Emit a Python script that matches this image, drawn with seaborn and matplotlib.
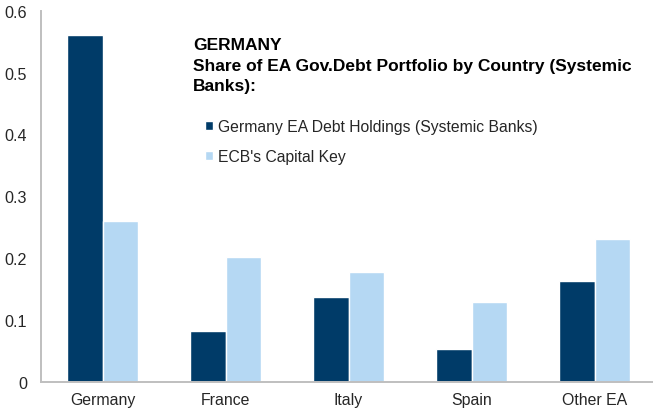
import matplotlib
matplotlib.use("Agg")
import matplotlib.pyplot as plt
import seaborn as sns
import pandas as pd

countries = ["Germany", "France", "Italy", "Spain", "Other EA"]
holdings = [0.56, 0.082, 0.137, 0.054, 0.163]
capital_key = [0.26, 0.2025, 0.177, 0.129, 0.231]
series_names = ["Germany EA Debt Holdings (Systemic Banks)", "ECB's Capital Key"]
title_lines = ["GERMANY", "Share of EA Gov.Debt Portfolio by Country (Systemic", "Banks):"]
y_ticks = [0, 0.1, 0.2, 0.3, 0.4, 0.5, 0.6]
y_tick_labels = ["0", "0.1", "0.2", "0.3", "0.4", "0.5", "0.6"]

df = pd.DataFrame({
    "country": countries * 2,
    "value": holdings + capital_key,
    "series": [series_names[0]] * len(countries) + [series_names[1]] * len(countries),
})

sns.set_theme(style="white")
plt.rcParams["font.family"] = ["Liberation Sans", "DejaVu Sans"]

W, H = 653, 414
fig = plt.figure(figsize=(W / 100, H / 100), dpi=100)
ax = fig.add_axes([41 / W, 31 / H, 615 / W, 371.3 / H])

palette = ["#003B68", "#B5D8F3"]
sns.barplot(data=df, x="country", y="value", hue="series", order=countries,
            hue_order=series_names, palette=palette, width=0.57, gap=0,
            saturation=1, ax=ax, legend=True)

ax.set_xlim(-0.5, 4.5)
ax.set_ylim(0, 0.6)
ax.set_yticks(y_ticks)
ax.set_yticklabels(y_tick_labels)
ax.set_xlabel("")
ax.set_ylabel("")

# category boundaries carry the tick marks; labels sit at centres
ax.set_xticks([i - 0.5 for i in range(len(countries) + 1)])
ax.set_xticklabels([])
ax.set_xticks(range(len(countries)), minor=True)
ax.set_xticklabels(countries, minor=True)
ax.tick_params(axis="x", which="minor", length=0, pad=7, labelsize=11.4, labelcolor="#262626")
ax.tick_params(axis="x", which="major", length=4, width=1.2, color="#BFBFBF", direction="out")
ax.tick_params(axis="y", length=4, width=1.2, color="#BFBFBF", direction="out",
               labelsize=11.6, labelcolor="#262626", pad=6)

for side in ["top", "right"]:
    ax.spines[side].set_visible(False)
for side in ["left", "bottom"]:
    ax.spines[side].set_color("#BFBFBF")
    ax.spines[side].set_linewidth(1.4)

handles, labels = ax.get_legend_handles_labels()
ax.get_legend().remove()
fig.legend(handles, labels, loc="upper left", bbox_to_anchor=(205 / W, 1 - 120 / H),
           frameon=False, fontsize=11.3, handlelength=0.5, handleheight=0.5,
           handletextpad=0.3, labelspacing=0.95, borderpad=0, borderaxespad=0)

for i, line in enumerate(title_lines):
    fig.text(193 / W, 1 - (45.5 + 20.6 * i) / H, line, fontsize=12.5, fontweight="bold",
             color="black", ha="left", va="center")

fig.savefig("out.png", dpi=100)
